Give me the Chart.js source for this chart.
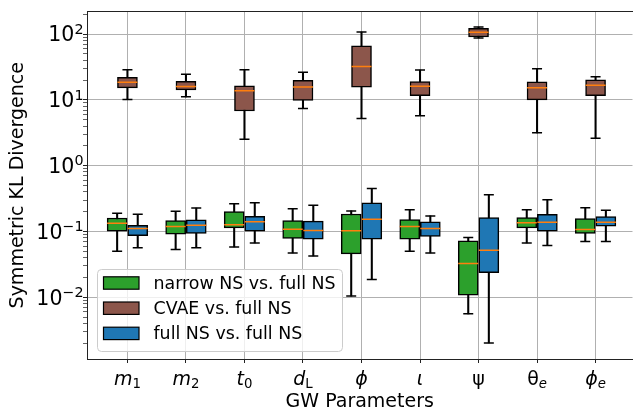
<!DOCTYPE html>
<html>
<head>
<meta charset="utf-8">
<script src="https://cdn.jsdelivr.net/npm/chart.js@4.4.1/dist/chart.umd.min.js"></script>
<style>
  html, body { margin: 0; padding: 0; background: #fff; overflow: hidden; }
  #wrap { width: 644px; height: 411px; }
</style>
</head>
<body>
<div id="wrap"><canvas id="chart" width="644" height="411"></canvas></div>
<script>
// ===== Symmetric KL divergence box plots =====
// tick label = main glyph + subscript, italic flags per part
const PARAM_MAIN = ['m', 'm', 't', 'd', 'ϕ', 'ι', 'ψ', 'θ', 'ϕ'];
const PARAM_SUB = ['1', '2', '0', 'L', '', '', '', 'e', 'e'];
const MAIN_ITALIC = [true, true, true, true, true, true, false, false, true];
const SUB_ITALIC = [false, false, false, false, false, false, false, true, true];
const SERIES = ['narrow NS vs. full NS', 'CVAE vs. full NS', 'full NS vs. full NS'];
const COLORS = ['#2ca02c', '#8c564b', '#1f77b4'];

const Y_MAJOR = [0.01, 0.1, 1, 10, 100];
const Y_EXP = ['−2', '−1', '0', '1', '2'];

// narrow NS vs. full NS
const narrowLo  = [0.0498, 0.0533, 0.058, 0.0471, 0.0104, 0.0498, 0.00558, 0.0667, 0.0705];
const narrowQ1  = [0.101, 0.091, 0.113, 0.0782, 0.0455, 0.0765, 0.0107, 0.113, 0.093];
const narrowMed = [0.133, 0.119, 0.126, 0.108, 0.102, 0.119, 0.0325, 0.135, 0.107];
const narrowQ3  = [0.160, 0.146, 0.200, 0.146, 0.184, 0.151, 0.0722, 0.162, 0.157];
const narrowHi  = [0.189, 0.202, 0.264, 0.221, 0.205, 0.214, 0.0809, 0.214, 0.229];

// CVAE vs. full NS
const cvaeLo  = [10.1, 11.1, 2.52, 7.39, 5.22, 5.74, 87.1, 3.15, 2.61];
const cvaeQ1  = [15.2, 14.2, 6.76, 9.76, 15.6, 11.6, 90.1, 10.0, 11.6];
const cvaeMed = [18.5, 15.9, 13.7, 15.6, 32.2, 16.1, 106, 15.3, 16.7];
const cvaeQ3  = [22.0, 19.1, 16.3, 19.8, 65.9, 18.9, 122, 18.7, 20.2];
const cvaeHi  = [28.6, 24.4, 28.6, 26.2, 107, 28.3, 127.6, 29.7, 22.5];

// full NS vs. full NS
const fullLo  = [0.0566, 0.0566, 0.0667, 0.0424, 0.0186, 0.0471, 0.00202, 0.0613, 0.0705];
const fullQ1  = [0.0859, 0.093, 0.101, 0.0765, 0.0765, 0.0838, 0.0235, 0.101, 0.120];
const fullMed = [0.111, 0.124, 0.140, 0.103, 0.153, 0.111, 0.0515, 0.138, 0.138];
const fullQ3  = [0.124, 0.150, 0.170, 0.143, 0.273, 0.140, 0.162, 0.182, 0.168];
const fullHi  = [0.182, 0.227, 0.273, 0.249, 0.450, 0.172, 0.360, 0.303, 0.210];

const STATS = [
    [narrowLo, narrowQ1, narrowMed, narrowQ3, narrowHi],
    [cvaeLo, cvaeQ1, cvaeMed, cvaeQ3, cvaeHi],
    [fullLo, fullQ1, fullMed, fullQ3, fullHi],
];

// layout
const OFFSETS = [-0.176, 0, 0.176];
const BOX_W = 20;
const FONT = 'DejaVu Sans';
const Y_MIN = 0.00115, Y_MAX = 220;

const isMajor = v => Y_MAJOR.some(m => Math.abs(m - v) / m < 1e-6);

function yTicks() {
    const out = [];
    for (let e = -3; e <= 2; e++) {
        for (let k = 1; k <= 9; k++) {
            const v = k === 1 && Y_MAJOR[e + 2] ? Y_MAJOR[e + 2] : k * Math.pow(10, e);
            if (v >= Y_MIN && v <= Y_MAX) out.push({ value: v });
        }
    }
    return out;
}

const datasets = [];
STATS.forEach(([lo, q1, med, q3, hi], s) => {
    const xs = PARAM_MAIN.map((_, i) => i + 1 + OFFSETS[s]);
    datasets.push({
        type: 'bar', order: 4, barThickness: 1.4, grouped: false,
        backgroundColor: '#000', borderWidth: 0,
        data: xs.map((x, i) => ({ x, y: [lo[i], hi[i]] })),
    });
    datasets.push({
        type: 'bar', order: 3, barThickness: BOX_W, grouped: false,
        backgroundColor: COLORS[s], borderColor: '#000', borderWidth: 1.5, borderSkipped: false,
        data: xs.map((x, i) => ({ x, y: [q1[i], q3[i]] })),
    });
    datasets.push({
        type: 'scatter', order: 2, pointStyle: 'line', pointRadius: 5,
        borderColor: '#000', borderWidth: 1.5,
        data: xs.flatMap((x, i) => [{ x, y: lo[i] }, { x, y: hi[i] }]),
    });
    datasets.push({
        type: 'scatter', order: 1, pointStyle: 'line', pointRadius: BOX_W / 2,
        borderColor: '#ff7f0e', borderWidth: 1.5,
        data: xs.map((x, i) => ({ x, y: med[i] })),
    });
});

const font = (size, italic) => `${italic ? 'italic ' : ''}${size}px "${FONT}"`;

// axis tick labels with real sub/superscripts, placed from the chart's scales
const mathTicks = {
    id: 'mathTicks',
    afterDraw(chart) {
        const { ctx, scales: { x, y } } = chart;
        ctx.save();
        ctx.fillStyle = '#000';
        ctx.textBaseline = 'alphabetic';
        ctx.textAlign = 'left';
        PARAM_MAIN.forEach((m, i) => {
            const cx = x.getPixelForValue(i + 1);
            const base = x.top + 26;
            ctx.font = font(19, MAIN_ITALIC[i]);
            const wm = ctx.measureText(m).width;
            ctx.font = font(13.3, SUB_ITALIC[i]);
            const ws = PARAM_SUB[i] ? ctx.measureText(PARAM_SUB[i]).width : 0;
            const x0 = cx - (wm + ws) / 2;
            ctx.font = font(19, MAIN_ITALIC[i]);
            ctx.fillText(m, x0, base);
            if (PARAM_SUB[i]) {
                ctx.font = font(13.3, SUB_ITALIC[i]);
                ctx.fillText(PARAM_SUB[i], x0 + wm, base + 3.2);
            }
        });
        Y_MAJOR.forEach((v, k) => {
            const py = y.getPixelForValue(v);
            const right = y.right - 3.5;
            ctx.font = font(14.3, false);
            const we = ctx.measureText(Y_EXP[k]).width;
            ctx.fillText(Y_EXP[k], right - we, py + 7.3 - 7.5);
            ctx.font = font(20.5, false);
            const wb = ctx.measureText('10').width;
            ctx.fillText('10', right - we - wb, py + 7.3);
        });
        ctx.restore();
    }
};

const legendBox = {
    id: 'legendBox',
    afterDraw(chart) {
        const ctx = chart.ctx;
        const x = 97, y = 269, w = 245, h = 82, r = 4;
        ctx.save();
        ctx.beginPath();
        ctx.roundRect(x + 0.5, y + 0.5, w, h, r);
        ctx.fillStyle = 'rgba(255,255,255,0.8)';
        ctx.fill();
        ctx.strokeStyle = '#cccccc';
        ctx.lineWidth = 1;
        ctx.stroke();
        ctx.font = font(17.4, false);
        ctx.textBaseline = 'middle';
        SERIES.forEach((name, i) => {
            const cy = 283 + i * 25.2;
            ctx.fillStyle = COLORS[i];
            ctx.fillRect(103.5, cy - 6.2, 35.5, 12.4);
            ctx.strokeStyle = '#000';
            ctx.lineWidth = 1.2;
            ctx.strokeRect(103.5, cy - 6.2, 35.5, 12.4);
            ctx.fillStyle = '#000';
            ctx.fillText(name, 153.5, cy + 1);
        });
        ctx.restore();
    }
};

Chart.defaults.color = '#000';
Chart.defaults.font.family = FONT;

new Chart(document.getElementById('chart'), {
    type: 'bar',
    data: { datasets },
    plugins: [mathTicks, legendBox],
    options: {
        responsive: false,
        devicePixelRatio: 1,
        animation: false,
        events: [],
        layout: { padding: 0 },
        plugins: { legend: { display: false }, tooltip: { enabled: false } },
        scales: {
            x: {
                type: 'linear', position: 'bottom', min: 0.309, max: 9.631, offset: false,
                afterBuildTicks: sc => { sc.ticks = PARAM_MAIN.map((_, i) => ({ value: i + 1 })); },
                afterFit: sc => { sc.height = 52; sc.paddingLeft = 0; sc.paddingRight = 0; },
                grid: { offset: false, color: '#b0b0b0', lineWidth: 1, tickColor: '#222', tickLength: 4 },
                border: { display: true, color: '#222', width: 1 },
                ticks: { display: false },
                title: { display: true, text: 'GW Parameters', font: { family: FONT, size: 19 }, padding: { top: 0, bottom: -2 } },
            },
            xTop: {
                type: 'linear', position: 'top', min: 0, max: 1,
                afterFit: sc => { sc.height = 9; sc.paddingLeft = 0; sc.paddingRight = 0; },
                grid: { display: false, drawTicks: false },
                border: { display: true, color: '#222', width: 1 },
                ticks: { display: false },
            },
            y: {
                type: 'logarithmic', min: Y_MIN, max: Y_MAX,
                afterBuildTicks: sc => { sc.ticks = yTicks(); },
                afterFit: sc => { sc.width = 87; sc.paddingTop = 0; sc.paddingBottom = 0; },
                grid: {
                    color: c => (c.tick && isMajor(c.tick.value)) ? '#b0b0b0' : 'rgba(0,0,0,0)',
                    lineWidth: 1, tickColor: '#222', tickLength: 4,
                    tickWidth: c => (c.tick && isMajor(c.tick.value)) ? 1 : 0.7,
                },
                border: { display: true, color: '#222', width: 1 },
                ticks: { display: false },
                title: { display: true, text: 'Symmetric KL Divergence', font: { family: FONT, size: 19 }, padding: { top: 7, bottom: 0 } },
            },
        },
    },
});
</script>
</body>
</html>
